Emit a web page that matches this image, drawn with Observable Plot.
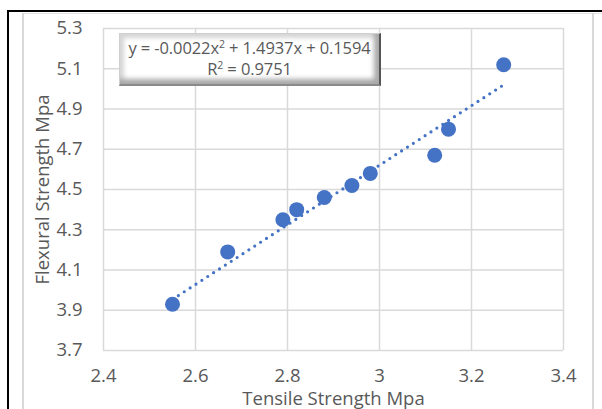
<!DOCTYPE html>
<html>
<head>
<meta charset="utf-8">
<script src="https://cdn.jsdelivr.net/npm/d3@7"></script>
<script src="https://cdn.jsdelivr.net/npm/@observablehq/plot@0.6"></script>
<style>
  body { margin: 0; background: #fff; }
  #wrap { position: relative; width: 602px; height: 409px; overflow: hidden; font-family: "Open Sans", Lato, sans-serif; }
  .ln { position: absolute; }
  #eq {
    position: absolute; left: 119px; top: 33px; width: 262px; height: 53px; box-sizing: border-box;
    background: #fff;
    border-top: 1px solid #cfcfcf; border-left: 1px solid #cfcfcf;
    border-right: 2px solid #555; border-bottom: 2px solid #8a8a8a;
    box-shadow: inset -5px -5px 5px #a8a8a8, inset 4px 4px 4px #d6d6d6;
    color: #595959; font-size: 16.5px; text-align: center; line-height: 21px; padding-top: 3px;
    white-space: nowrap; letter-spacing: -0.1px;
  }
  #eq sup { font-size: 10.5px; line-height: 0; vertical-align: 6px; }
</style>
</head>
<body>
<div id="wrap"></div>
<script>
const tensile  = [2.55, 2.67, 2.79, 2.82, 2.88, 2.94, 2.98, 3.12, 3.15, 3.27];
const flexural = [3.93, 4.19, 4.35, 4.40, 4.46, 4.52, 4.58, 4.67, 4.80, 5.12];
const xTicks = [2.4, 2.6, 2.8, 3.0, 3.2, 3.4];
const yTicks = [3.7, 3.9, 4.1, 4.3, 4.5, 4.7, 4.9, 5.1, 5.3];
const xTickLabels = ["2.4", "2.6", "2.8", "3", "3.2", "3.4"];
const yTickLabels = ["3.7", "3.9", "4.1", "4.3", "4.5", "4.7", "4.9", "5.1", "5.3"];
const trendCoef = [-0.0022, 1.4937, 0.1594]; // a x^2 + b x + c (from displayed equation)
const eqLine1 = "y = -0.0022x<sup>2</sup> + 1.4937x + 0.1594";
const eqLine2 = "R<sup>2</sup> = 0.9751";
const xLabel = "Tensile Strength Mpa";
const yLabel = "Flexural Strength Mpa";

const points = tensile.map((t, i) => ({t, f: flexural[i]}));
const x0 = d3.min(tensile), x1 = d3.max(tensile);
const trend = d3.range(0, 41).map(i => {
  const x = x0 + (x1 - x0) * i / 40;
  return {t: x, f: trendCoef[0] * x * x + trendCoef[1] * x + trendCoef[2]};
});

const blue = "#4472C4";
const chart = Plot.plot({
  width: 602, height: 409,
  marginLeft: 103, marginRight: 39, marginTop: 28, marginBottom: 59,
  style: {fontFamily: "'Open Sans', Lato, sans-serif", fontSize: "18.5px", color: "#595959", background: "transparent", overflow: "visible"},
  x: {domain: [2.4, 3.4]},
  y: {domain: [3.7, 5.3]},
  marks: [
    Plot.gridX(xTicks, {stroke: "#d9d9d9", strokeOpacity: 1, strokeWidth: 1.5}),
    Plot.gridY(yTicks, {stroke: "#d9d9d9", strokeOpacity: 1, strokeWidth: 1.5}),
    Plot.axisX({ticks: xTicks, tickFormat: (d, i) => xTickLabels[i], tickSize: 0, tickPadding: 18,
      label: xLabel, labelAnchor: "center", labelArrow: "none", labelOffset: 54}),
    Plot.axisY({ticks: yTicks, tickFormat: (d, i) => yTickLabels[i], tickSize: 0, tickPadding: 21,
      label: yLabel, labelAnchor: "center", labelArrow: "none", labelOffset: 68}),
    Plot.line(trend, {x: "t", y: "f", stroke: blue, strokeWidth: 3.2, strokeDasharray: "0 7", strokeLinecap: "round"}),
    Plot.dot(points, {x: "t", y: "f", r: 7.5, fill: blue, stroke: "none"})
  ]
});

const wrap = document.getElementById("wrap");
const addLine = (l, t, w, h, c) => {
  const d = document.createElement("div");
  d.className = "ln";
  Object.assign(d.style, {left: l + "px", top: t + "px", width: w + "px", height: h + "px", background: c});
  wrap.appendChild(d);
};
chart.style.position = "absolute";
chart.style.left = "0px";
chart.style.top = "0px";
wrap.appendChild(chart);
addLine(7, 10, 595, 2, "#000");
addLine(7, 10, 2, 399, "#000");
addLine(22, 13, 580, 1, "#e4e4e4");
addLine(22, 13, 1.5, 396, "#d9d9d9");
addLine(592, 13, 1.5, 396, "#d9d9d9");
const eq = document.createElement("div");
eq.id = "eq";
eq.innerHTML = eqLine1 + "<br>" + eqLine2;
wrap.appendChild(eq);
</script>
</body>
</html>
